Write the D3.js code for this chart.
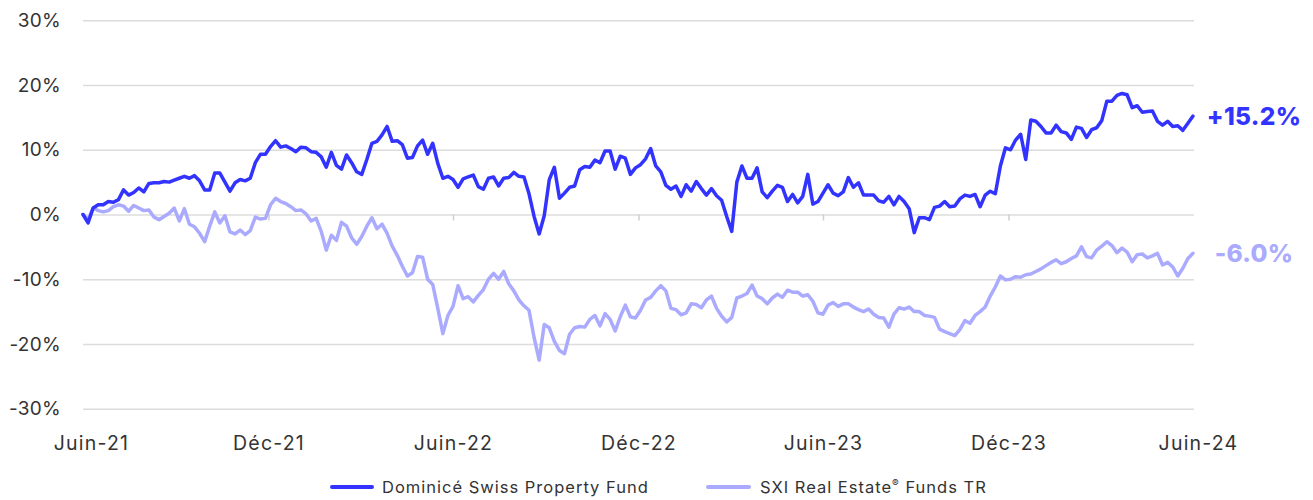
<!DOCTYPE html>
<html>
<head>
<meta charset="utf-8">
<script src="https://cdn.jsdelivr.net/npm/d3@7"></script>
<style>
  html, body { margin: 0; padding: 0; background: #ffffff; }
  svg { display: block; }
  text { font-family: Inter, "Noto Sans", sans-serif; }
</style>
</head>
<body>
<svg id="chart" width="1313" height="500"></svg>
<script>
const dates = [
"2021-06-01","2021-06-06","2021-06-11","2021-06-16","2021-06-21","2021-06-26",
"2021-07-01","2021-07-06","2021-07-11","2021-07-16","2021-07-21","2021-07-26","2021-07-31",
"2021-08-05","2021-08-10","2021-08-15","2021-08-20","2021-08-25","2021-08-30",
"2021-09-04","2021-09-09","2021-09-14","2021-09-19","2021-09-24","2021-09-29",
"2021-10-04","2021-10-09","2021-10-14","2021-10-19","2021-10-24","2021-10-29",
"2021-11-03","2021-11-08","2021-11-13","2021-11-18","2021-11-23","2021-11-28",
"2021-12-03","2021-12-08","2021-12-13","2021-12-18","2021-12-23","2021-12-28",
"2022-01-02","2022-01-07","2022-01-12","2022-01-17","2022-01-22","2022-01-27",
"2022-02-01","2022-02-06","2022-02-11","2022-02-16","2022-02-21","2022-02-26",
"2022-03-03","2022-03-08","2022-03-13","2022-03-18","2022-03-23","2022-03-28",
"2022-04-02","2022-04-07","2022-04-12","2022-04-17","2022-04-22","2022-04-27",
"2022-05-02","2022-05-07","2022-05-12","2022-05-17","2022-05-22","2022-05-27",
"2022-06-01","2022-06-06","2022-06-11","2022-06-16","2022-06-21","2022-06-26",
"2022-07-01","2022-07-06","2022-07-11","2022-07-16","2022-07-21","2022-07-26","2022-07-31",
"2022-08-05","2022-08-10","2022-08-15","2022-08-20","2022-08-25","2022-08-30",
"2022-09-04","2022-09-09","2022-09-14","2022-09-19","2022-09-24","2022-09-29",
"2022-10-04","2022-10-09","2022-10-14","2022-10-19","2022-10-24","2022-10-29",
"2022-11-03","2022-11-08","2022-11-13","2022-11-18","2022-11-23","2022-11-28",
"2022-12-03","2022-12-08","2022-12-13","2022-12-18","2022-12-23","2022-12-28",
"2023-01-02","2023-01-07","2023-01-12","2023-01-17","2023-01-22","2023-01-27",
"2023-02-01","2023-02-06","2023-02-11","2023-02-16","2023-02-21","2023-02-26",
"2023-03-03","2023-03-08","2023-03-13","2023-03-18","2023-03-23","2023-03-28",
"2023-04-02","2023-04-07","2023-04-12","2023-04-17","2023-04-22","2023-04-27",
"2023-05-02","2023-05-07","2023-05-12","2023-05-17","2023-05-22","2023-05-27",
"2023-06-01","2023-06-06","2023-06-11","2023-06-16","2023-06-21","2023-06-26",
"2023-07-01","2023-07-06","2023-07-11","2023-07-16","2023-07-21","2023-07-26","2023-07-31",
"2023-08-05","2023-08-10","2023-08-15","2023-08-20","2023-08-25","2023-08-30",
"2023-09-04","2023-09-09","2023-09-14","2023-09-19","2023-09-24","2023-09-29",
"2023-10-04","2023-10-09","2023-10-14","2023-10-19","2023-10-24","2023-10-29",
"2023-11-03","2023-11-08","2023-11-13","2023-11-18","2023-11-23","2023-11-28",
"2023-12-03","2023-12-08","2023-12-13","2023-12-18","2023-12-23","2023-12-28",
"2024-01-02","2024-01-07","2024-01-12","2024-01-17","2024-01-22","2024-01-27",
"2024-02-01","2024-02-06","2024-02-11","2024-02-16","2024-02-21","2024-02-26",
"2024-03-02","2024-03-07","2024-03-12","2024-03-17","2024-03-22","2024-03-27",
"2024-04-01","2024-04-06","2024-04-11","2024-04-16","2024-04-21","2024-04-26",
"2024-05-01","2024-05-06","2024-05-11","2024-05-16","2024-05-21","2024-05-26","2024-05-31"
];

const fundName = "Dominicé Swiss Property Fund";
const fundValues = [
0.0,-1.3,1.0,1.5,1.5,2.0,1.9,2.3,3.8,3.0,
3.4,4.1,3.5,4.8,4.9,4.9,5.1,5.0,5.3,5.6,
5.9,5.6,6.0,5.2,3.8,3.8,6.4,6.4,5.0,3.6,
4.9,5.4,5.2,5.6,8.0,9.3,9.3,10.5,11.4,10.4,
10.6,10.2,9.7,10.4,10.3,9.7,9.6,8.9,7.3,9.6,
7.6,7.0,9.2,8.0,6.6,6.2,8.5,11.0,11.3,12.3,
13.6,11.3,11.4,10.8,8.7,8.8,10.6,11.5,9.3,11.0,
7.9,5.6,5.9,5.4,4.2,5.5,5.8,6.1,4.3,3.9,
5.6,5.8,4.4,5.6,5.7,6.5,5.9,5.8,3.2,-0.3,
-3.0,-0.2,5.4,7.3,2.5,3.3,4.2,4.4,6.9,7.4,
7.3,8.4,8.0,9.8,9.8,7.0,9.0,8.7,6.2,7.2,
7.7,8.6,10.2,7.5,6.6,4.5,3.9,4.4,2.8,4.6,
3.6,5.1,4.0,3.0,4.0,2.9,2.2,-0.3,-2.6,5.0,
7.5,5.6,5.6,7.2,3.5,2.6,3.6,4.5,4.2,2.0,
3.1,1.8,2.8,6.2,1.6,2.0,3.3,4.6,3.3,2.9,
3.5,5.7,4.2,4.9,3.0,3.0,3.0,2.1,1.9,2.8,
1.5,2.8,2.0,0.9,-2.8,-0.5,-0.5,-0.8,1.1,1.3,
2.0,1.2,1.3,2.4,3.0,2.8,3.1,1.2,3.0,3.6,
3.2,7.5,10.3,10.0,11.5,12.4,8.5,14.6,14.4,13.6,
12.6,12.6,13.8,12.8,12.6,11.6,13.5,13.3,11.9,13.1,
13.4,14.5,17.5,17.5,18.4,18.7,18.5,16.5,16.8,15.8,
15.9,16.0,14.4,13.8,14.4,13.6,13.7,13.0,14.1,15.2
];

const indexName = "SXI Real Estate";
const indexNameSup = "\u00AE";
const indexNameTail = " Funds TR";
const indexValues = [
0.0,-0.8,1.0,0.6,0.4,0.6,1.2,1.5,1.3,0.5,
1.4,1.0,0.6,0.7,-0.4,-0.8,-0.3,0.2,1.0,-1.0,
0.9,-1.5,-1.9,-2.9,-4.2,-1.8,0.4,-1.3,-0.2,-2.7,
-3.0,-2.4,-3.1,-2.5,-0.4,-0.7,-0.6,1.5,2.5,2.0,
1.7,1.2,0.6,0.7,0.1,-1.0,-0.6,-2.6,-5.5,-3.2,
-4.0,-1.2,-1.8,-3.6,-4.6,-3.4,-1.8,-0.5,-2.2,-1.5,
-2.9,-4.9,-6.3,-8.0,-9.5,-9.0,-6.5,-6.6,-10.0,-10.8,
-14.5,-18.4,-15.6,-14.2,-11.0,-13.0,-12.7,-13.5,-12.5,-11.6,
-10.0,-9.1,-10.0,-8.8,-10.7,-11.8,-13.2,-14.1,-14.8,-19.0,
-22.5,-17.0,-17.5,-19.6,-21.0,-21.5,-18.5,-17.5,-17.3,-17.4,
-16.2,-15.6,-17.2,-15.3,-16.2,-18.0,-15.8,-14.0,-15.8,-16.0,
-14.8,-13.2,-12.8,-11.8,-11.0,-11.8,-14.5,-14.7,-15.5,-15.2,
-13.8,-13.9,-14.4,-13.2,-12.6,-14.5,-15.7,-16.6,-15.9,-12.9,
-12.6,-12.2,-10.9,-12.6,-13.0,-13.8,-12.9,-12.3,-12.8,-11.7,
-12.0,-12.0,-12.6,-12.4,-13.4,-15.2,-15.4,-14.0,-13.6,-14.2,
-13.8,-13.8,-14.3,-14.7,-15.0,-14.6,-15.4,-15.9,-16.0,-17.4,
-15.4,-14.4,-14.6,-14.3,-15.0,-15.0,-15.6,-15.7,-15.9,-17.7,
-18.1,-18.4,-18.7,-17.8,-16.4,-16.8,-15.6,-15.0,-14.3,-12.6,
-11.2,-9.5,-10.1,-10.0,-9.6,-9.7,-9.3,-9.2,-8.8,-8.4,
-7.9,-7.4,-7.0,-7.6,-7.3,-6.8,-6.4,-5.0,-6.5,-6.7,
-5.5,-4.9,-4.2,-4.8,-5.9,-5.2,-5.8,-7.3,-6.2,-6.1,
-6.7,-6.4,-6.0,-7.8,-7.4,-8.1,-9.5,-8.3,-6.8,-6.0
];

const xTickDates = ["2021-06-01","2021-12-01","2022-06-01","2022-12-01","2023-06-01","2023-12-01","2024-06-01"];
const xTickLabels = ["Juin-21","Déc-21","Juin-22","Déc-22","Juin-23","Déc-23","Juin-24"];
const yTicks = [-30,-20,-10,0,10,20,30];
const endLabels = ["+15.2%","-6.0%"];

const fundColor = "#3333ff";
const indexColor = "#aaaaff";

const parse = d3.timeParse("%Y-%m-%d");
const dateObjs = dates.map(parse);
const tickDateObjs = xTickDates.map(parse);

const svg = d3.select("#chart");
const mLeft = 83, mRight = 1194, mTop = 20.3, mBottom = 408.7;

const x = d3.scaleTime().domain([parse("2021-06-01"), parse("2024-06-01")]).range([mLeft, mRight]);
const y = d3.scaleLinear().domain([-30, 30]).range([mBottom, mTop]);

// gridlines + y labels
const yAxis = d3.axisLeft(y).tickValues(yTicks).tickSize(-(mRight - mLeft)).tickFormat(d => d + "%").tickPadding(22);
const gy = svg.append("g").attr("transform", `translate(${mLeft},0)`).call(yAxis);
gy.select(".domain").remove();
gy.selectAll(".tick line").attr("stroke", "#dcdcdc").attr("stroke-width", 1.5);
gy.selectAll(".tick text").attr("fill", "#333333").style("font-size", "19px")
  .style("font-family", "Inter, sans-serif").style("letter-spacing", "0.3px");

// small ticks on zero line
const tickAxis = d3.axisBottom(x).tickValues(tickDateObjs.slice(1, -1)).tickSize(6).tickFormat("");
const gt = svg.append("g").attr("transform", `translate(0,${y(0)})`).call(tickAxis);
gt.select(".domain").remove();
gt.selectAll(".tick line").attr("stroke", "#cfcfcf").attr("stroke-width", 1.5);

// bottom labels
const labelAxis = d3.axisBottom(x).tickValues(tickDateObjs).tickSize(0).tickPadding(0)
  .tickFormat((d, i) => xTickLabels[i]);
const gx = svg.append("g").attr("transform", `translate(0,${mBottom})`).call(labelAxis);
gx.select(".domain").remove();
gx.selectAll(".tick text").attr("fill", "#333333").style("font-size", "19.5px")
  .style("letter-spacing", "1.2px")
  .style("font-family", "Inter, sans-serif").attr("dy", "0").attr("y", 41);
gx.selectAll(".tick text").filter((d, i) => i === 0).attr("dx", 8);
gx.selectAll(".tick text").filter((d, i) => i === xTickLabels.length - 1).attr("dx", 4);

// lines
const line = d3.line().x((d, i) => x(dateObjs[i])).y(d => y(d)).curve(d3.curveLinear);
svg.append("path").datum(indexValues).attr("d", line)
  .attr("fill", "none").attr("stroke", indexColor).attr("stroke-width", 3.5)
  .attr("stroke-linejoin", "round").attr("stroke-linecap", "round");
svg.append("path").datum(fundValues).attr("d", line)
  .attr("fill", "none").attr("stroke", fundColor).attr("stroke-width", 3.5)
  .attr("stroke-linejoin", "round").attr("stroke-linecap", "round");

// end labels
const lastVals = [fundValues[fundValues.length - 1], indexValues[indexValues.length - 1]];
const endColors = [fundColor, indexColor];
svg.selectAll(".endlabel").data(endLabels).enter().append("text")
  .attr("class", "endlabel")
  .attr("x", mRight + 60)
  .attr("y", (d, i) => y(lastVals[i]))
  .attr("dy", "0.36em")
  .attr("text-anchor", "middle")
  .attr("fill", (d, i) => endColors[i])
  .style("font-size", "24.5px").style("font-weight", "800").style("letter-spacing", "0.3px")
  .text(d => d);

// legend
const lg = svg.append("g").attr("transform", "translate(0,487)");
lg.append("line").attr("x1", 332).attr("x2", 372).attr("stroke", fundColor)
  .attr("stroke-width", 4).attr("stroke-linecap", "round");
lg.append("text").attr("x", 382).attr("dy", "0.35em").attr("fill", "#333333")
  .style("font-size", "16.5px").style("letter-spacing", "1px").text(fundName);
lg.append("line").attr("x1", 708).attr("x2", 749).attr("stroke", indexColor)
  .attr("stroke-width", 4).attr("stroke-linecap", "round");
const t2 = lg.append("text").attr("x", 760).attr("y", 0).attr("dy", "0.35em").attr("fill", "#333333")
  .style("font-size", "16.5px").style("letter-spacing", "1px");
t2.append("tspan").text(indexName);
t2.append("tspan").attr("dy", -6).style("font-size", "10px").text(indexNameSup);
t2.append("tspan").attr("dy", 6).text(indexNameTail);
</script>
</body>
</html>
